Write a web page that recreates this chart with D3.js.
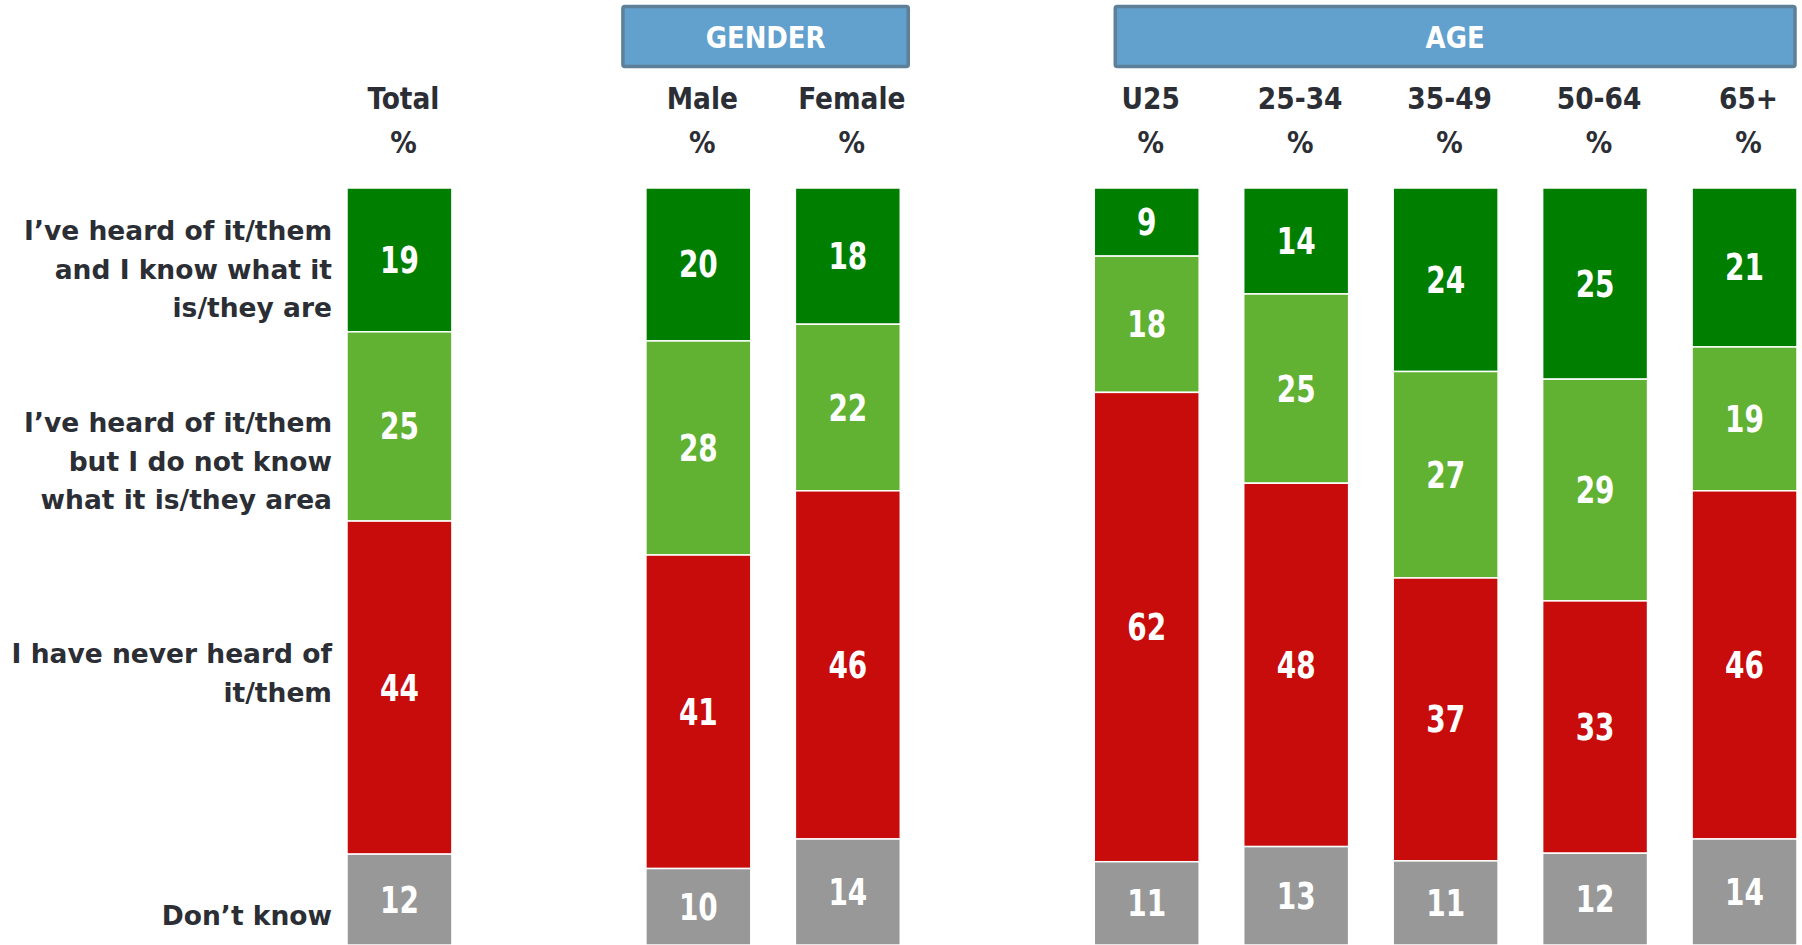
<!DOCTYPE html>
<html>
<head>
<meta charset="utf-8">
<script src="https://cdn.jsdelivr.net/npm/d3@7"></script>
<style>
  html, body { margin: 0; padding: 0; background: #ffffff; }
  svg { display: block; }
</style>
</head>
<body>
<svg id="chart" width="1802" height="945"></svg>
<script>
// ---- Data ----
const columns = ["Total", "Male", "Female", "U25", "25-34", "35-49", "50-64", "65+"];
const slots = ["Total", "gapA", "Male", "Female", "gapB", "U25", "25-34", "35-49", "50-64", "65+"];
const heardAndKnow = [19, 20, 18, 9, 14, 24, 25, 21];
const heardNotKnow = [25, 28, 22, 18, 25, 27, 29, 19];
const neverHeard   = [44, 41, 46, 62, 48, 37, 33, 46];
const dontKnow     = [12, 10, 14, 11, 13, 11, 12, 14];
const seriesNames = ["heardAndKnow", "heardNotKnow", "neverHeard", "dontKnow"];
const categoryLabels = [
  ["I\u2019ve heard of it/them", "and I know what it", "is/they are"],
  ["I\u2019ve heard of it/them", "but I do not know", "what it is/they area"],
  ["I have never heard of", "it/them"],
  ["Don\u2019t know"]
];
const groupHeaders = [
  { name: "GENDER", from: "Male", to: "Female" },
  { name: "AGE", from: "U25", to: "65+" }
];

// ---- Styles / layout ----
const colors = ["#007E00", "#61B133", "#C80B0B", "#989898"];
const textDark = "#2B2E34";
const narrow = "'DejaVu Sans Condensed', 'DejaVu Sans', sans-serif";
const labelFont = "'DejaVu Sans', Verdana, sans-serif";

const svg = d3.select("#chart");
const x = d3.scaleBand().domain(slots).range([347, 1797]).paddingInner(0.298).paddingOuter(0);
const y = d3.scaleLinear().domain([0, 1]).range([188, 945]);

const rows = columns.map((c, i) => {
  const vals = [heardAndKnow[i], heardNotKnow[i], neverHeard[i], dontKnow[i]];
  const sum = d3.sum(vals);
  const o = { col: c, sum };
  seriesNames.forEach((s, k) => o[s] = vals[k]);
  return o;
});
const stack = d3.stack().keys(seriesNames)
  .value((d, key) => d[key] / d.sum);
const stacked = stack(rows);

const layers = svg.append("g").selectAll("g.layer").data(stacked).join("g")
  .attr("class", "layer").attr("fill", (d, i) => colors[i]);

layers.selectAll("rect").data(d => d).join("rect")
  .attr("x", d => x(d.data.col))
  .attr("width", x.bandwidth())
  .attr("y", d => y(d[0]))
  .attr("height", d => y(d[1]) - y(d[0]))
  .attr("stroke", "#ffffff")
  .attr("stroke-width", 1.5);

layers.each(function(layer) {
  d3.select(this).selectAll("text").data(layer).join("text")
    .attr("transform", d => `translate(${x(d.data.col) + x.bandwidth() / 2},${(y(d[0]) + y(d[1])) / 2}) scale(0.84,1)`)
    .attr("text-anchor", "middle")
    .attr("dominant-baseline", "central")
    .attr("fill", "#ffffff")
    .attr("font-family", narrow)
    .attr("font-weight", "bold")
    .attr("font-size", 37)
    .text(d => d.data[layer.key]);
});

// Column headers
const hdr = svg.append("g");
hdr.selectAll("text.col").data(columns).join("text")
  .attr("class", "col")
  .attr("transform", d => `translate(${x(d) + x.bandwidth() / 2 + 4},98) scale(0.95,1)`)
  .attr("text-anchor", "middle")
  .attr("dominant-baseline", "central")
  .attr("fill", textDark)
  .attr("font-family", narrow)
  .attr("font-weight", "bold")
  .attr("font-size", 31)
  .text(d => d);
hdr.selectAll("text.pct").data(columns).join("text")
  .attr("class", "pct")
  .attr("transform", d => `translate(${x(d) + x.bandwidth() / 2 + 4},142) scale(0.95,1)`)
  .attr("text-anchor", "middle")
  .attr("dominant-baseline", "central")
  .attr("fill", textDark)
  .attr("font-family", narrow)
  .attr("font-weight", "bold")
  .attr("font-size", 31)
  .text("%");

// Group header boxes
const boxL = d => x(d.from) - (d.name === "GENDER" ? 23 : -21);
const boxR = d => x(d.to) + x.bandwidth() + (d.name === "GENDER" ? 8 : -2);
const gh = svg.append("g").selectAll("g").data(groupHeaders).join("g");
gh.append("rect")
  .attr("x", boxL)
  .attr("y", 6.5)
  .attr("width", d => boxR(d) - boxL(d))
  .attr("height", 60)
  .attr("fill", "#62A0CE")
  .attr("stroke", "#5E7F98")
  .attr("stroke-width", 3.5)
  .attr("rx", 2);
gh.append("text")
  .attr("transform", d => `translate(${(boxL(d) + boxR(d)) / 2},37) scale(0.93,1)`)
  .attr("text-anchor", "middle")
  .attr("dominant-baseline", "central")
  .attr("fill", "#ffffff")
  .attr("font-family", narrow)
  .attr("font-weight", "bold")
  .attr("font-size", 31)
  .text(d => d.name);

// Category labels (left)
const labelCenters = [269, 461, 673, 915];
const lineH = 38.5;
const cl = svg.append("g").selectAll("text").data(categoryLabels).join("text")
  .attr("text-anchor", "end")
  .attr("fill", textDark)
  .attr("font-family", labelFont)
  .attr("font-weight", "bold")
  .attr("font-size", 26.5);
cl.each(function(lines, i) {
  const top = labelCenters[i] - (lines.length - 1) * lineH / 2;
  d3.select(this).selectAll("tspan").data(lines).join("tspan")
    .attr("x", 332)
    .attr("y", (d, j) => top + j * lineH)
    .attr("dominant-baseline", "central")
    .text(d => d);
});
</script>
</body>
</html>
